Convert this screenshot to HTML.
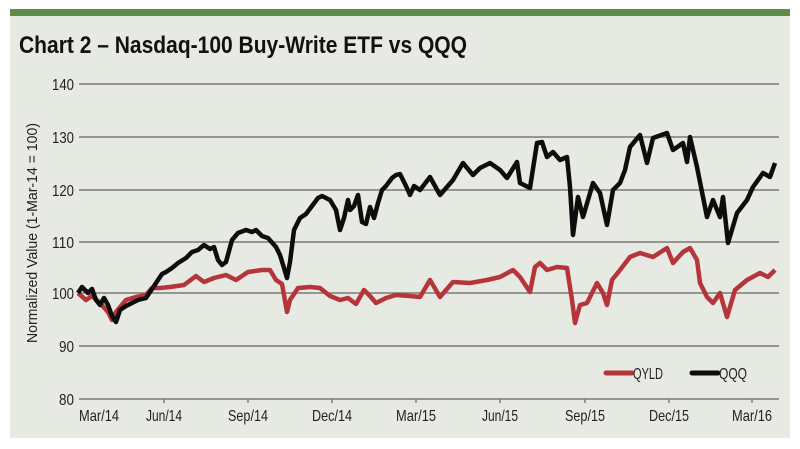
<!DOCTYPE html>
<html><head><style>
html,body{margin:0;padding:0;background:#fff;width:800px;height:449px;overflow:hidden}
text{font-family:"Liberation Sans Narrow","Liberation Sans",sans-serif}
</style></head><body>
<svg width="800" height="449" xmlns="http://www.w3.org/2000/svg">
<rect x="10" y="9" width="780" height="7" fill="#5e8c4a"/>
<rect x="10" y="16" width="780" height="422" fill="#e7e9e3"/>
<text x="19" y="53" font-size="24" font-weight="bold" fill="#111" textLength="448" lengthAdjust="spacingAndGlyphs">Chart 2 – Nasdaq-100 Buy-Write ETF vs QQQ</text>
<g stroke="#7a7a78" stroke-width="1.5">
<line x1="79" y1="84" x2="779" y2="84"/>
<line x1="79" y1="137" x2="779" y2="137"/>
<line x1="79" y1="190" x2="779" y2="190"/>
<line x1="79" y1="242" x2="779" y2="242"/>
<line x1="79" y1="293" x2="779" y2="293"/>
<line x1="79" y1="346" x2="779" y2="346"/>
<line x1="79" y1="399" x2="779" y2="399"/>
<line x1="164" y1="399" x2="164" y2="403"/><line x1="248" y1="399" x2="248" y2="403"/>
<line x1="332" y1="399" x2="332" y2="403"/><line x1="416" y1="399" x2="416" y2="403"/>
<line x1="500" y1="399" x2="500" y2="403"/><line x1="585" y1="399" x2="585" y2="403"/>
<line x1="669" y1="399" x2="669" y2="403"/><line x1="752" y1="399" x2="752" y2="403"/>
</g>
<g font-size="16" fill="#222" text-anchor="end">
<text x="74" y="90" textLength="22" lengthAdjust="spacingAndGlyphs">140</text><text x="74" y="143" textLength="22" lengthAdjust="spacingAndGlyphs">130</text><text x="74" y="196" textLength="22" lengthAdjust="spacingAndGlyphs">120</text>
<text x="74" y="248" textLength="22" lengthAdjust="spacingAndGlyphs">110</text><text x="74" y="299" textLength="22" lengthAdjust="spacingAndGlyphs">100</text><text x="74" y="352" textLength="15" lengthAdjust="spacingAndGlyphs">90</text><text x="74" y="405" textLength="15" lengthAdjust="spacingAndGlyphs">80</text>
</g>
<g font-size="16" fill="#222" text-anchor="middle">
<text x="99" y="421" textLength="40" lengthAdjust="spacingAndGlyphs">Mar/14</text><text x="164" y="421" textLength="36" lengthAdjust="spacingAndGlyphs">Jun/14</text><text x="248" y="421" textLength="40" lengthAdjust="spacingAndGlyphs">Sep/14</text>
<text x="332" y="421" textLength="40" lengthAdjust="spacingAndGlyphs">Dec/14</text><text x="416" y="421" textLength="40" lengthAdjust="spacingAndGlyphs">Mar/15</text><text x="500" y="421" textLength="36" lengthAdjust="spacingAndGlyphs">Jun/15</text>
<text x="585" y="421" textLength="40" lengthAdjust="spacingAndGlyphs">Sep/15</text><text x="669" y="421" textLength="40" lengthAdjust="spacingAndGlyphs">Dec/15</text><text x="752" y="421" textLength="40" lengthAdjust="spacingAndGlyphs">Mar/16</text>
</g>
<text transform="translate(37,233) rotate(-90)" font-size="15" fill="#222" text-anchor="middle" textLength="220" lengthAdjust="spacingAndGlyphs">Normalized Value (1-Mar-14 = 100)</text>
<polyline fill="none" stroke="#b5353b" stroke-width="4.5" stroke-linejoin="round" points="78,293 86,300 92,296 100,303 108,312 112,320 116,312 126,300 136,297 146,295 152,288 160,288 170,287 184,285 196,276 204,282 214,278 226,275 236,280 248,272 262,270 270,270 276,280 282,284 287,312 290,300 298,288 310,287 320,288 330,296 340,300 348,298 356,304 364,290 370,296 376,303 386,298 396,295 410,296 420,297 430,280 440,297 453,282 470,283 487,280 500,277 513,270 520,277 530,292 535,267 540,263 547,270 557,267 567,268 572,300 575,323 580,305 587,303 597,283 603,293 607,305 612,280 620,270 630,257 640,253 653,257 667,248 673,263 683,252 690,248 697,260 700,283 707,297 713,303 720,293 727,317 735,290 747,280 760,273 768,277 775,270"/>
<polyline fill="none" stroke="#0d0d0d" stroke-width="4.5" stroke-linejoin="round" points="78,293 82,287 88,293 92,289 96,300 100,305 104,298 108,305 112,316 116,322 120,310 126,306 132,303 138,300 146,298 150,292 156,283 162,274 166,272 172,268 178,263 186,258 192,252 198,250 204,245 210,249 214,247 218,260 222,265 226,262 232,240 238,233 246,230 252,232 256,230 262,236 268,238 276,247 280,255 284,268 287,278 290,262 294,230 300,218 306,214 312,206 318,198 322,196 326,198 330,200 336,210 340,230 344,218 348,200 350,210 354,206 358,195 362,222 366,224 370,207 374,218 378,203 382,190 386,186 392,178 396,175 400,174 406,186 410,195 414,186 420,190 430,177 440,195 453,180 463,163 473,175 480,168 490,163 500,170 507,178 517,162 520,183 530,188 537,143 542,142 547,157 553,152 560,160 567,157 570,187 573,235 578,197 583,217 593,183 600,193 607,225 613,190 620,183 625,170 630,147 640,135 647,163 653,138 667,133 673,150 683,143 687,162 690,137 697,167 703,197 707,217 713,200 720,217 723,197 728,243 737,213 747,200 753,187 763,173 770,177 775,163"/>
<line x1="606" y1="373" x2="632" y2="373" stroke="#b5353b" stroke-width="5" stroke-linecap="round"/>
<text x="633" y="379" font-size="16" fill="#222" textLength="30" lengthAdjust="spacingAndGlyphs">QYLD</text>
<line x1="692" y1="373" x2="718" y2="373" stroke="#0d0d0d" stroke-width="5" stroke-linecap="round"/>
<text x="719" y="379" font-size="16" fill="#222" textLength="28" lengthAdjust="spacingAndGlyphs">QQQ</text>
</svg>
</body></html>
